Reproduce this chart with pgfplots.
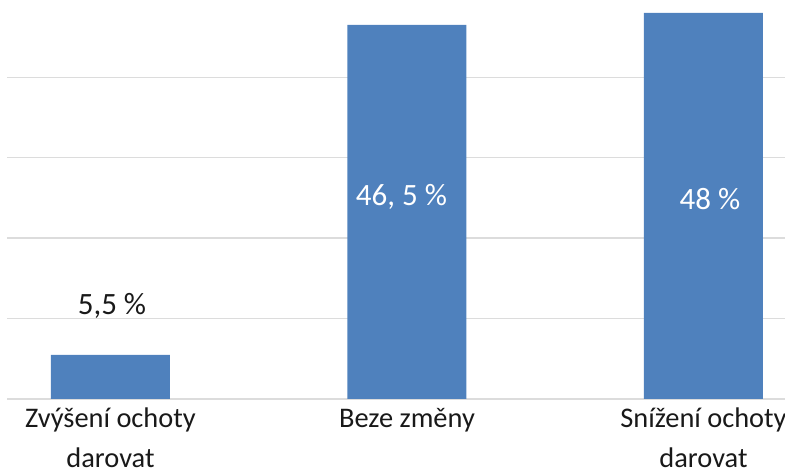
\documentclass[border=0pt]{standalone}
\usepackage{pgfplots}
\pgfplotsset{compat=1.18}
\usepackage{fontspec}
\setmainfont{Carlito}

\definecolor{barblue}{HTML}{4F81BD}
\definecolor{gridgray}{HTML}{DCDCDC}

\begin{document}
\begin{tikzpicture}
\path[use as bounding box, clip] (0,0) rectangle (785bp,470bp);
\begin{axis}[
  at={(7bp,71bp)}, anchor=south west,
  scale only axis,
  width=778bp, height=399bp,
  xmin=-0.349, xmax=2.275,
  ymin=0, ymax=49.6,
  ytick={0,10,20,30,40},
  yticklabel=\empty,
  ymajorgrids,
  grid style={gridgray, line width=1.3bp},
  axis line style={draw=none},
  tick style={draw=none},
  xtick={0,1,2},
  xticklabels={{\strut Zvýšení ochoty\\darovat},{\strut Beze změny},{\strut Snížení ochoty\\darovat}},
  xticklabel style={align=center, anchor=north, inner sep=0pt, yshift=0bp,
    font=\fontsize{28.4bp}{40bp}\selectfont, text=black!90},
  clip=false,
]
\addplot[ybar, bar width=119bp, fill=barblue, draw=none]
  coordinates {(0,5.5) (1,46.5) (2,48)};

% value labels
\node[anchor=base, font=\fontsize{31bp}{36bp}\selectfont, text=black!90]
  at (axis cs:0.005,10.56) {5,5 \%};
\node[anchor=base, font=\fontsize{31bp}{36bp}\selectfont, text=white]
  at (axis cs:0.9815,24.1) {46, 5 \%};
\node[anchor=base, font=\fontsize{31bp}{36bp}\selectfont, text=white]
  at (axis cs:2.022,23.6) {48 \%};
\end{axis}
\end{tikzpicture}
\end{document}
